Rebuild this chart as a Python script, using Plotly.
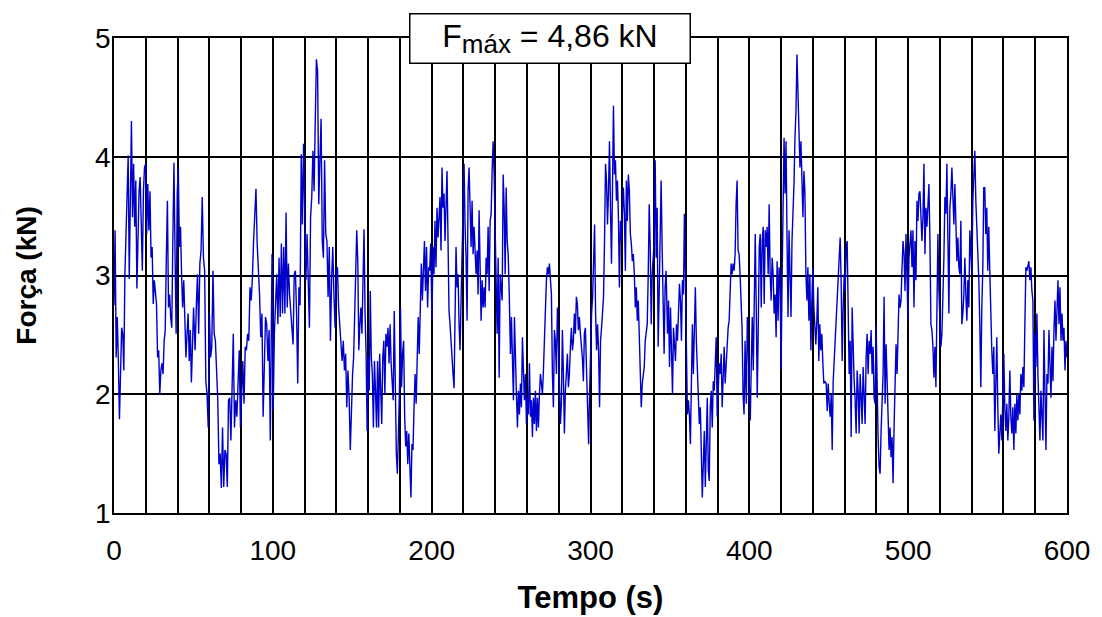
import numpy as np
import plotly.graph_objects as go

# Force readings (kN), grouped by time windows; each window's samples are equally spaced
forca_00_50 = [2.75, 3.38, 2.31, 2.65, 2.28, 1.79, 2.17, 2.56, 2.51, 2.20, 3.01, 3.30, 3.63, 4.01, 2.97, 3.77, 4.30, 3.49, 3.94, 3.41, 3.80, 2.89, 3.41, 3.71, 3.83, 3.29, 3.04, 3.71, 3.91, 3.94, 3.35, 3.77, 3.38, 3.71, 3.15, 3.24, 2.76, 2.96, 2.84, 2.76, 2.31, 2.37, 2.00, 2.20, 2.26, 2.17, 2.45, 2.54, 3.15, 3.63, 2.73, 2.84, 2.65, 2.56, 3.32, 3.95, 3.18, 2.51, 3.69, 3.91, 3.24, 3.41, 3.01, 2.73, 2.96, 2.59, 2.31, 2.51, 2.68, 2.28, 2.54, 2.10, 2.48, 2.73]
forca_50_98 = [2.65, 2.37, 2.73, 3.01, 2.51, 3.10, 3.21, 3.66, 3.15, 3.04, 2.11, 2.00, 1.72, 2.68, 2.31, 2.40, 3.04, 2.51, 2.45, 2.14, 1.95, 1.41, 1.50, 1.21, 1.72, 1.22, 1.53, 1.50, 1.22, 1.95, 1.97, 1.61, 2.11, 2.51, 1.72, 1.95, 1.81, 2.14, 2.37, 1.72, 2.06, 2.28, 1.92, 2.40, 2.37, 2.51, 2.45, 2.90, 2.79, 2.98, 3.29, 3.60, 3.73, 3.27, 3.07, 2.84, 2.48, 2.68, 1.81, 2.31, 2.65, 2.59, 2.28, 2.54, 1.61]
forca_99_150 = [3.18, 1.86, 2.51, 2.73, 3.01, 2.59, 3.15, 2.65, 3.27, 2.68, 3.24, 2.68, 3.53, 2.73, 3.10, 2.84, 2.68, 2.59, 2.42, 3.01, 3.04, 2.68, 2.09, 2.90, 2.75, 4.02, 3.43, 4.11, 3.66, 2.96, 3.35, 2.79, 2.56, 3.49, 3.66, 4.05, 3.71, 4.30, 4.82, 4.72, 3.60, 3.97, 4.32, 3.29, 3.15, 3.97, 3.35, 3.29, 2.82, 3.24, 2.45, 2.96, 3.24, 2.84, 2.56, 3.04, 3.07, 2.73, 2.59, 2.41, 2.28, 2.45, 2.20, 2.34, 1.89, 2.20, 1.97, 1.53, 2.00]
forca_150_199 = [2.17, 2.31, 2.76, 2.96, 3.38, 3.12, 2.37, 2.59, 2.73, 2.51, 3.01, 3.39, 2.68, 2.34, 1.69, 2.31, 2.03, 2.87, 2.31, 2.17, 1.72, 2.28, 2.03, 1.72, 2.28, 1.72, 2.34, 1.95, 1.75, 2.31, 2.45, 2.00, 2.51, 2.40, 2.56, 2.26, 2.59, 2.26, 2.03, 1.95, 2.70, 1.89, 1.50, 1.33, 1.64, 2.03, 2.73, 2.06, 2.34, 2.45, 1.81, 1.56, 1.69, 1.41, 1.67, 1.33, 1.13, 1.58, 1.53, 1.89, 2.17, 1.92, 2.45, 2.65, 2.34, 2.70, 3.10, 2.79, 3.18, 3.29, 2.87, 3.24, 2.73, 3.07, 3.04, 3.27]
forca_200_249 = [2.62, 3.24, 3.01, 3.46, 3.07, 3.57, 3.32, 3.52, 3.66, 3.21, 3.91, 3.57, 3.69, 3.29, 3.63, 3.88, 3.29, 2.70, 2.59, 2.42, 2.28, 2.17, 2.05, 2.54, 3.24, 2.90, 3.01, 2.59, 2.37, 2.79, 3.29, 3.57, 3.94, 3.41, 3.15, 2.62, 3.71, 3.91, 3.57, 3.24, 3.63, 3.18, 3.41, 3.12, 3.01, 3.21, 2.84, 3.55, 2.96, 2.62, 2.96, 2.73, 2.90, 2.73, 3.15, 3.01, 3.41, 2.87, 3.46, 3.52, 3.88, 4.13, 3.85, 3.29, 3.01, 2.51, 3.15, 2.14, 3.01, 2.87, 2.79, 3.85, 3.57, 3.01, 3.74, 3.29, 3.18, 2.87]
forca_250_297 = [2.34, 2.65, 2.17, 1.95, 2.65, 2.17, 2.00, 1.72, 2.03, 1.83, 2.09, 1.89, 2.48, 2.20, 1.95, 2.17, 1.75, 1.97, 1.83, 2.26, 1.81, 1.95, 1.64, 1.97, 1.75, 2.03, 1.69, 1.97, 1.72, 2.00, 2.17, 2.09, 2.00, 2.20, 2.51, 2.84, 2.96, 3.07, 3.01, 3.10, 2.90, 2.84, 2.17, 1.89, 2.54, 2.45, 2.17, 2.73, 2.45, 2.00, 1.75, 1.92, 2.54, 2.17, 1.67, 2.03, 2.23, 2.34, 2.06, 2.17, 2.40, 2.56, 2.37, 2.45, 2.68, 2.51, 2.82, 2.76, 2.54, 2.65, 2.51, 2.40, 2.31, 2.11, 2.51, 2.56, 2.17]
forca_298_348 = [1.89, 1.58, 2.03, 2.40, 2.68, 2.82, 3.29, 3.43, 2.68, 2.37, 2.59, 2.37, 1.89, 2.45, 2.56, 2.73, 2.82, 3.29, 3.94, 3.80, 3.43, 3.71, 4.13, 3.57, 3.10, 3.71, 4.43, 3.85, 3.97, 3.63, 3.80, 3.49, 2.90, 3.46, 3.29, 3.52, 3.74, 3.52, 3.04, 3.80, 3.46, 3.85, 3.71, 3.35, 3.27, 3.12, 3.18, 3.01, 2.73, 2.90, 2.62, 2.79, 2.54, 2.17, 1.89, 2.09, 2.17, 2.23, 2.45, 2.51, 2.59, 3.01, 3.60, 3.24, 2.59, 3.01, 3.21, 3.29, 3.97, 3.15, 3.57, 2.40, 2.84, 3.24, 3.80, 3.24, 2.73, 2.34, 2.90, 3.04]
forca_348_397 = [2.51, 2.79, 2.23, 2.73, 2.37, 2.00, 2.56, 2.40, 2.28, 2.59, 2.45, 2.68, 2.93, 2.79, 2.45, 2.96, 2.84, 3.52, 2.98, 2.40, 1.83, 1.95, 1.83, 1.58, 1.97, 2.59, 2.17, 2.56, 2.90, 2.45, 2.20, 1.89, 1.75, 1.89, 1.39, 1.13, 1.41, 1.69, 1.22, 1.61, 1.97, 1.36, 1.27, 1.89, 2.03, 1.72, 2.11, 2.03, 2.20, 2.48, 1.81, 2.09, 2.26, 2.17, 2.34, 1.89, 2.11, 2.40, 2.09, 2.23, 2.45, 2.56, 2.62, 2.84, 3.10, 3.01, 3.10, 3.04, 3.18, 3.60, 3.80, 3.21, 3.18, 3.01, 2.73, 2.56, 2.00, 1.83, 2.45]
forca_398_448 = [1.92, 2.65, 2.31, 2.11, 1.78, 2.26, 2.65, 2.20, 2.79, 3.35, 2.73, 1.97, 2.54, 3.24, 3.35, 2.73, 3.29, 3.41, 2.76, 3.38, 3.24, 3.41, 3.01, 3.60, 3.01, 2.79, 3.15, 3.01, 2.68, 2.84, 2.48, 3.12, 2.62, 3.07, 2.96, 2.20, 2.96, 3.66, 4.16, 3.69, 4.13, 3.29, 2.65, 3.38, 3.01, 2.65, 3.29, 3.52, 3.77, 4.16, 4.39, 4.86, 4.47, 4.22, 3.91, 4.13, 3.80, 3.49, 3.88, 3.71, 3.01, 2.79, 3.07, 2.62, 3.01, 2.37, 2.79, 3.07, 2.73, 2.54, 2.42, 2.62, 2.90, 2.28, 2.59, 2.37, 2.51, 2.28, 2.09, 2.11]
forca_448_497 = [2.09, 1.86, 2.09, 1.92, 1.81, 2.00, 1.53, 2.11, 2.28, 2.40, 2.62, 2.73, 2.96, 3.15, 3.32, 2.93, 2.28, 2.73, 3.01, 2.87, 3.24, 3.29, 2.45, 2.17, 2.45, 1.64, 2.73, 2.31, 2.11, 1.95, 1.67, 2.20, 2.03, 1.67, 2.17, 1.97, 1.75, 2.23, 1.89, 1.75, 2.31, 2.51, 2.17, 2.45, 2.34, 2.54, 2.17, 2.40, 1.97, 1.92, 2.59, 1.86, 1.64, 1.39, 1.33, 1.69, 1.89, 2.17, 2.82, 1.92, 2.42, 2.11, 1.61, 1.53, 1.72, 1.47, 1.64, 1.25, 1.72, 2.11, 2.42, 2.17, 2.45, 2.84, 2.73, 2.79, 3.07, 3.29, 3.18]
forca_498_547 = [2.87, 3.35, 3.04, 2.62, 3.15, 3.29, 3.38, 3.07, 3.38, 2.73, 3.29, 2.96, 3.63, 3.46, 3.69, 3.71, 3.55, 3.29, 3.49, 3.94, 3.18, 3.57, 3.41, 3.63, 3.77, 3.29, 2.59, 2.54, 2.40, 2.14, 2.40, 2.06, 2.59, 3.35, 2.87, 2.68, 2.40, 2.51, 2.79, 3.15, 3.66, 3.52, 3.94, 2.96, 2.68, 3.57, 3.69, 3.91, 3.63, 3.43, 3.77, 3.29, 3.12, 3.32, 3.07, 3.01, 3.46, 2.59, 2.68, 2.84, 3.15, 2.84, 2.62, 2.96, 2.73, 3.38, 3.10, 3.01, 3.63, 3.92, 4.05, 3.63, 3.41, 3.29, 2.96, 2.59, 2.06, 2.73, 3.07]
forca_548_600 = [3.74, 3.74, 3.35, 3.57, 3.04, 3.41, 3.04, 2.65, 2.37, 2.17, 2.40, 1.69, 2.00, 2.48, 1.89, 1.50, 1.67, 1.83, 1.61, 2.03, 2.34, 1.89, 1.69, 1.92, 1.61, 1.81, 2.20, 1.81, 1.67, 1.89, 1.53, 1.92, 1.67, 2.00, 1.78, 2.00, 1.83, 2.17, 2.03, 2.23, 2.06, 2.59, 3.07, 3.04, 3.10, 3.12, 2.96, 3.07, 2.87, 2.79, 1.78, 2.51, 2.23, 2.68, 2.17, 1.92, 1.61, 2.03, 1.78, 1.61, 2.54, 1.89, 1.53, 2.17, 2.09, 2.54, 2.28, 1.97, 2.40, 2.11, 2.54, 2.79, 2.45, 2.82, 2.96, 2.59, 2.90, 2.45, 2.68, 2.45, 2.56, 2.20, 2.45, 2.31]

# start / end time (s) of each window
janela_inicio = [0.0, 50.3, 99.5, 150.2, 200.2, 249.6, 298.2, 348.5, 398.1, 448.4, 498.0, 547.6]
janela_fim = [50.1, 98.4, 149.5, 199.4, 248.8, 297.4, 347.6, 397.3, 447.5, 497.4, 547.0, 600.0]

janelas = [forca_00_50, forca_50_98, forca_99_150, forca_150_199, forca_200_249, forca_250_297,
           forca_298_348, forca_348_397, forca_398_448, forca_448_497, forca_498_547, forca_548_600]

tempo = []
forca = []
for t0, t1, vals in zip(janela_inicio, janela_fim, janelas):
    tempo.extend(np.linspace(t0, t1, len(vals)).tolist())
    forca.extend(vals)

x_ticks = [0, 100, 200, 300, 400, 500, 600]
y_ticks = [1, 2, 3, 4, 5]
fmax_label = 'F<sub><span style="font-size:26px">máx</span></sub> = 4,86 kN'

font_family = "Liberation Sans, Arial, sans-serif"

fig = go.Figure()
fig.add_trace(go.Scatter(x=tempo, y=forca, mode="lines",
                         line=dict(color="#0000CC", width=1.4),
                         showlegend=False, hoverinfo="x+y"))

fig.update_layout(
    width=1102, height=617,
    margin=dict(l=114, r=35, t=38, b=104),
    paper_bgcolor="white", plot_bgcolor="white",
    font=dict(family=font_family, size=28, color="black"),
    xaxis=dict(
        range=[0, 600], tickvals=x_ticks, ticktext=[str(v) for v in x_ticks],
        showgrid=True, gridcolor="black", gridwidth=1.5,
        minor=dict(dtick=20, showgrid=True, gridcolor="black", gridwidth=1.5, ticks=""),
        showline=True, linecolor="black", linewidth=1.5, mirror=True,
        ticks="", ticklabelstandoff=12, zeroline=False, automargin=False,
        title=dict(text="<b>Tempo (s)</b>", font=dict(size=31), standoff=21),
        tickfont=dict(size=28),
    ),
    yaxis=dict(
        range=[1, 5], tickvals=y_ticks,
        showgrid=True, gridcolor="black", gridwidth=1.5,
        showline=True, linecolor="black", linewidth=1.5, mirror=True,
        ticks="", ticklabelstandoff=-4, zeroline=False, automargin=False,
        title=dict(text="<b>Força (kN)</b>", font=dict(size=28), standoff=50),
        tickfont=dict(size=28),
    ),
    annotations=[dict(
        x=0.457, y=1.0, xref="paper", yref="paper",
        xanchor="center", yanchor="middle",
        text=fmax_label, showarrow=False,
        font=dict(size=32, color="black"),
        bgcolor="white", bordercolor="black", borderwidth=1.5,
        width=271, height=40, borderpad=4,
    )],
)

fig.write_html("out.html", config={"displayModeBar": False},
               post_script="document.body.style.margin='0';")
